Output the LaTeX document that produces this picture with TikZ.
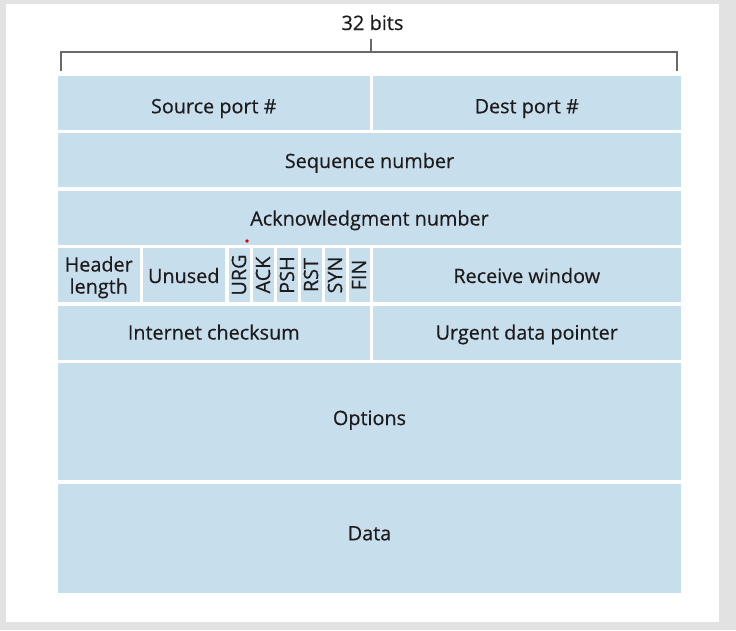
\documentclass[tikz,border=0pt]{standalone}
\usepackage{fontspec}
\setmainfont{Open Sans}
\newfontfamily\medfont{Open Sans}[FakeBold=0.4]
\definecolor{frame}{RGB}{226,226,226}
\definecolor{cellblue}{RGB}{199,222,237}
\definecolor{ink}{RGB}{30,27,28}
\definecolor{rule}{RGB}{105,105,105}
\tikzset{
  cell/.style={fill=cellblue, draw=none, inner sep=0pt, anchor=center,
    text=ink, font=\medfont\fontsize{19.8}{22}\selectfont},
  lowtext/.style={text height=#1, text depth=0pt},
  uptext/.style={text height=14.1pt, text depth=#1},
  flagcell/.style={cell, rotate=90, minimum width=54pt, minimum height=21pt,
    text height=14.1pt, text depth=0pt},
  bracket/.style={draw=rule, line width=1.2pt}
}
\begin{document}
\begin{tikzpicture}[x=1pt,y=-1pt]
\fill[frame] (0,0) rectangle (736,630);
\fill[white] (6,4) rectangle (719,622);
\useasboundingbox (0,0) rectangle (736,630);

% bracket
\node[text=ink, font=\medfont\fontsize{20}{22}\selectfont, anchor=base, inner sep=0pt] (bits) at (372.5,30) {32 bits};
\coordinate (tickTop) at (371,39);
\coordinate (tickMid) at (371,52);
\coordinate (lTop) at (61,52);
\coordinate (lBot) at (61,71);
\coordinate (rTop) at (677,52);
\coordinate (rBot) at (677,71);
\draw[bracket] (lBot) -- (lTop) -- (rTop) -- (rBot);
\draw[bracket] (tickMid) -- (tickTop);

% row 1
\node[cell, lowtext=21pt, minimum width=311.5pt, minimum height=53.5pt] (src) at (213.75,102.75) {Source port \#};
\node[cell, lowtext=21pt, minimum width=308.5pt, minimum height=53.5pt] (dst) at (526.75,102.75) {Dest port \#};
% row 2
\node[cell, lowtext=16pt, minimum width=623pt, minimum height=54pt] (seq) at (369.5,160) {Sequence number};
% row 3
\node[cell, lowtext=16pt, minimum width=623pt, minimum height=54pt] (ack) at (369.5,217.5) {Acknowledgment number};
% row 4
\node[cell, align=center, text depth=0pt, minimum width=81.5pt, minimum height=54pt] (hlen) at (98.75,275) {Header\\length};
\node[cell, lowtext=16pt, minimum width=82.5pt, minimum height=54pt] (unused) at (183.75,275) {Unused};
\node[flagcell] (urg) at (239,275) {URG};
\node[flagcell] (ackf) at (263,275) {ACK};
\node[flagcell] (psh) at (287,275) {PSH};
\node[flagcell] (rst) at (311,275) {RST};
\node[flagcell] (syn) at (335,275) {SYN};
\node[flagcell] (fin) at (359,275) {FIN};
\node[cell, lowtext=16pt, minimum width=308.5pt, minimum height=54pt] (rwnd) at (526.75,275) {Receive window};
% row 5
\node[cell, lowtext=14.1pt, minimum width=311.5pt, minimum height=54pt] (cks) at (213.75,332.5) {Internet checksum};
\node[cell, lowtext=14.1pt, minimum width=308.5pt, minimum height=54pt] (uptr) at (526.75,332.5) {Urgent data pointer};
% row 6
\node[cell, uptext=7pt, minimum width=623pt, minimum height=117pt] (opts) at (369.5,421.5) {Options};
% row 7
\node[cell, uptext=10pt, minimum width=623pt, minimum height=109.5pt] (data) at (369.5,538.25) {Data};

% small red mark
\fill[red!85!black] (247,241) circle (1.8pt);
\end{tikzpicture}
\end{document}
